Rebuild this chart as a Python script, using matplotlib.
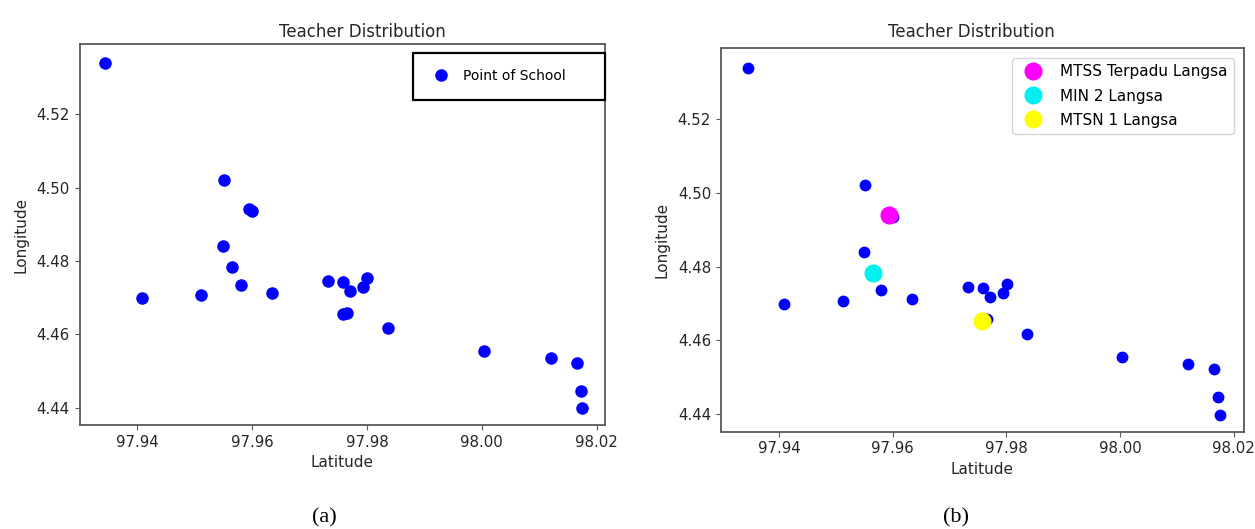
import matplotlib
matplotlib.use("Agg")
import matplotlib.pyplot as plt

# ---- data (longitude-like x "Latitude", y "Longitude") ----
school_lat = [97.9345, 97.9409, 97.9512, 97.9552, 97.9594, 97.9600, 97.9549,
              97.9566, 97.9580, 97.9634, 97.9732, 97.9759, 97.9771, 97.9794,
              97.9801, 97.9759, 97.9766, 97.9836, 98.0004, 98.0120, 98.0166,
              98.0172, 98.0175]
school_lon = [4.5341, 4.4698, 4.4707, 4.5021, 4.4942, 4.4936, 4.4841,
              4.4784, 4.4736, 4.4713, 4.4746, 4.4742, 4.4718, 4.4730,
              4.4753, 4.4655, 4.4659, 4.4618, 4.4555, 4.4537, 4.4522,
              4.4446, 4.4398]

highlight_names = ["MTSS Terpadu Langsa", "MIN 2 Langsa", "MTSN 1 Langsa"]
highlight_lat = [97.9593, 97.9566, 97.9758]
highlight_lon = [4.4941, 4.4783, 4.4653]
highlight_colors = ["#ff00ff", "#00f0f0", "#ffff00"]

x_ticks = [97.94, 97.96, 97.98, 98.00, 98.02]
y_ticks = [4.44, 4.46, 4.48, 4.50, 4.52]

title = "Teacher Distribution"
xlabel = "Latitude"
ylabel = "Longitude"

plt.rcParams['font.family'] = ['DejaVu Sans']
TXT = '#262626'
SPINE = '0.35'

fig = plt.figure(figsize=(12.55, 5.29), dpi=100)
W, H = 1255.0, 529.0

def add_axes(l, r, t, b):
    return fig.add_axes([l / W, 1 - b / H, (r - l) / W, (b - t) / H])

axL = add_axes(79.6, 605.4, 44.3, 425.0)
axR = add_axes(720.9, 1244.0, 48.4, 431.7)

def style(ax):
    for s in ax.spines.values():
        s.set_color(SPINE)
        s.set_linewidth(1.3)
    ax.set_xticks(x_ticks)
    ax.set_yticks(y_ticks)
    ax.set_xticklabels([f"{v:.2f}" for v in x_ticks])
    ax.set_yticklabels([f"{v:.2f}" for v in y_ticks])
    ax.tick_params(labelsize=10.8, colors=SPINE, labelcolor=TXT, length=3.5)
    ax.set_xlabel(xlabel, fontsize=11, color=TXT, labelpad=4)
    ax.set_ylabel(ylabel, fontsize=11, color=TXT, labelpad=6)

# ---- left panel ----
axL.plot(school_lat, school_lon, 'o', color='blue', markersize=8,
         label="Point of School")
axL.set_xlim(97.9300, 98.0215)
axL.set_ylim(4.4353, 4.5391)
style(axL)
axL.set_title(title, fontsize=12, color=TXT, x=0.537, pad=5)
legL = axL.legend(loc='upper left', bbox_to_anchor=(0.635, 0.3, 0.365, 0.678),
                  mode='expand', borderaxespad=0, fontsize=10,
                  borderpad=1.19, handlelength=1.57, handletextpad=0.79,
                  fancybox=False, framealpha=1)
legL.get_frame().set_edgecolor('black')
legL.get_frame().set_linewidth(1.6)

# ---- right panel ----
axR.plot(school_lat, school_lon, 'o', color='blue', markersize=7.5)
for name, lx, ly, c in zip(highlight_names, highlight_lat, highlight_lon,
                           highlight_colors):
    axR.plot([lx], [ly], 'o', color=c, markersize=12, label=name)
axR.set_xlim(97.9298, 98.0218)
axR.set_ylim(4.4352, 4.5393)
style(axR)
axR.set_title(title, fontsize=12, color=TXT, x=0.478, pad=8)
axR.legend(loc='upper right', fontsize=11, borderaxespad=0.65,
           labelspacing=0.6)

# ---- captions ----
fig.text(324 / W, 1 - 518 / H, "(a)", ha='center', va='center',
         family='Liberation Serif', fontsize=16, color='black')
fig.text(956 / W, 1 - 518 / H, "(b)", ha='center', va='center',
         family='Liberation Serif', fontsize=16, color='black')

fig.savefig("out.png", dpi=100)
